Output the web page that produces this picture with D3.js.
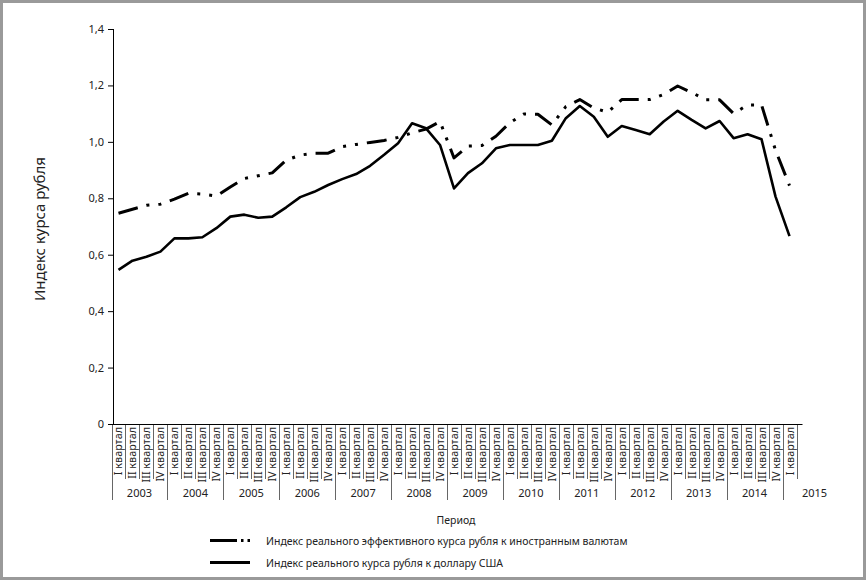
<!DOCTYPE html>
<html>
<head>
<meta charset="utf-8">
<script src="https://cdn.jsdelivr.net/npm/d3@7/dist/d3.min.js"></script>
<style>
  html, body { margin: 0; padding: 0; background: #fff; }
  svg { display: block; }
  text { font-family: "Noto Sans", "Open Sans", sans-serif; fill: #222; }
</style>
</head>
<body>
<svg id="chart" width="866" height="580"></svg>
<script>
// ---- data ----
const years = ["2003","2004","2005","2006","2007","2008","2009","2010","2011","2012","2013","2014","2015"];
const quarterNames = ["I квартал","II квартал","III квартал","IV квартал"];
const quartersPerYear = [4,4,4,4,4,4,4,4,4,4,4,4,1];
const yTicks = [0, 0.2, 0.4, 0.6, 0.8, 1.0, 1.2, 1.4];
const seriesNames = [
  "Индекс реального эффективного курса рубля к иностранным валютам",
  "Индекс реального курса рубля к доллару США"
];
// Real effective exchange rate index
const effective = [
  0.747, 0.761, 0.775, 0.779,
  0.797, 0.818, 0.815, 0.808,
  0.840, 0.870, 0.880, 0.890,
  0.935, 0.953, 0.960, 0.960,
  0.983, 0.991, 0.998, 1.005,
  1.016, 1.032, 1.045, 1.072,
  0.943, 0.985, 0.987, 1.020,
  1.068, 1.099, 1.098, 1.060,
  1.125, 1.150, 1.120, 1.105,
  1.150, 1.150, 1.150, 1.168,
  1.198, 1.175, 1.149, 1.149,
  1.100, 1.131, 1.131, 0.970,
  0.845
];
// Real exchange rate index to USD
const usd = [
  0.546, 0.579, 0.593, 0.611,
  0.658, 0.658, 0.662, 0.694,
  0.735, 0.742, 0.731, 0.735,
  0.768, 0.804, 0.823, 0.847,
  0.868, 0.886, 0.915, 0.954,
  0.995, 1.066, 1.048, 0.989,
  0.835, 0.889, 0.924, 0.977,
  0.989, 0.989, 0.989, 1.004,
  1.084, 1.127, 1.089, 1.018,
  1.056, 1.042, 1.027, 1.072,
  1.110, 1.078, 1.048, 1.074,
  1.013, 1.027, 1.009, 0.806,
  0.666
];

// ---- categories built from years / quarters ----
const categories = [];
years.forEach((y, yi) => {
  for (let q = 0; q < quartersPerYear[yi]; q++) {
    categories.push({ key: y + "-" + q, year: y, yi: yi, q: q, label: quarterNames[q] });
  }
});

const svg = d3.select("#chart");
const W = 866, H = 580;

// frame
svg.append("rect").attr("x", 1.5).attr("y", 1.5).attr("width", W - 3).attr("height", H - 3)
  .attr("fill", "#fff").attr("stroke", "#9a9a9a").attr("stroke-width", 3);

const x = d3.scaleBand().domain(categories.map(d => d.key)).range([111.5, 796.5]).paddingInner(0).paddingOuter(0);
const y = d3.scaleLinear().domain([0, 1.4]).range([424, 29]);
const xc = k => x(k) + x.bandwidth() / 2;

// y axis
const fmt = v => v === 0 ? "0" : d3.format(".1f")(v).replace(".", ",");
const yAxis = d3.axisLeft(y).tickValues(yTicks).tickFormat(fmt).tickSize(5).tickPadding(4);
const gy = svg.append("g").attr("transform", "translate(113,0)").call(yAxis);
gy.select(".domain").attr("stroke", "#000").attr("d", "M0.5,29V424.5");
gy.selectAll(".tick line").attr("stroke", "#000");
gy.selectAll(".tick text").style("font-size", "11px").attr("fill", "#222")
  .style("font-family", '"Noto Sans", sans-serif');

// x axis line
svg.append("line").attr("x1", 113).attr("x2", 802.5).attr("y1", 424.5).attr("y2", 424.5)
  .attr("stroke", "#000").attr("stroke-width", 1);

// quarter separators
const gx = svg.append("g");
categories.forEach((d, i) => {
  const xl = Math.round(x(d.key)) + 0.5;
  const isYearStart = d.q === 0;
  gx.append("line").attr("x1", xl).attr("x2", xl).attr("y1", 425).attr("y2", isYearStart ? 500 : 479)
    .attr("stroke", "#666").attr("stroke-width", 1);
});
// final right boundary
{
  const last = categories[categories.length - 1];
  const xr = Math.round(x(last.key) + x.bandwidth()) + 0.5;
  gx.append("line").attr("x1", xr).attr("x2", xr).attr("y1", 425).attr("y2", 479)
    .attr("stroke", "#666").attr("stroke-width", 1);
}

// quarter labels (rotated)
gx.selectAll("text.q").data(categories).enter().append("text")
  .attr("class", "q")
  .attr("transform", d => `translate(${xc(d.key) + 4},427) rotate(-90)`)
  .attr("text-anchor", "end")
  .style("font-size", "10.8px")
  .text(d => d.label);

// year labels
years.forEach((yr, yi) => {
  const cats = categories.filter(c => c.yi === yi);
  let cx;
  if (cats.length === 4) {
    cx = (x(cats[0].key) + x(cats[3].key) + x.bandwidth()) / 2;
  } else {
    cx = x(cats[0].key) + x.bandwidth() / 2 + 25;
  }
  gx.append("text").attr("x", cx).attr("y", 497).attr("text-anchor", "middle")
    .style("font-size", "11px").text(yr);
});

// y title
svg.append("text").attr("transform", "translate(45,229) rotate(-90)")
  .attr("text-anchor", "middle").style("font-size", "15px").text("Индекс курса рубля");

// x title
svg.append("text").attr("x", 456).attr("y", 524).attr("text-anchor", "middle")
  .style("font-size", "10.5px").text("Период");

// lines
const lineGen = d3.line().x((d, i) => xc(categories[i].key)).y(d => y(d)).curve(d3.curveLinear);
const dashPattern = "20 9 3 9 3 9";

svg.append("path").datum(effective).attr("d", lineGen)
  .attr("fill", "none").attr("stroke", "#000").attr("stroke-width", 3)
  .attr("stroke-dasharray", dashPattern).attr("stroke-linejoin", "round");

svg.append("path").datum(usd).attr("d", lineGen)
  .attr("fill", "none").attr("stroke", "#000").attr("stroke-width", 2.6)
  .attr("stroke-linejoin", "round");

// legend
const lg = svg.append("g");
lg.append("line").attr("x1", 210).attr("x2", 250).attr("y1", 540.5).attr("y2", 540.5)
  .attr("stroke", "#000").attr("stroke-width", 3).attr("stroke-dasharray", "27 4 2.5 4 2.5 100");
lg.append("text").attr("x", 266).attr("y", 544.5).style("font-size", "10.5px").text(seriesNames[0]);
lg.append("line").attr("x1", 210).attr("x2", 250).attr("y1", 562.5).attr("y2", 562.5)
  .attr("stroke", "#000").attr("stroke-width", 3);
lg.append("text").attr("x", 266).attr("y", 566.5).style("font-size", "10.5px").text(seriesNames[1]);
</script>
</body>
</html>
